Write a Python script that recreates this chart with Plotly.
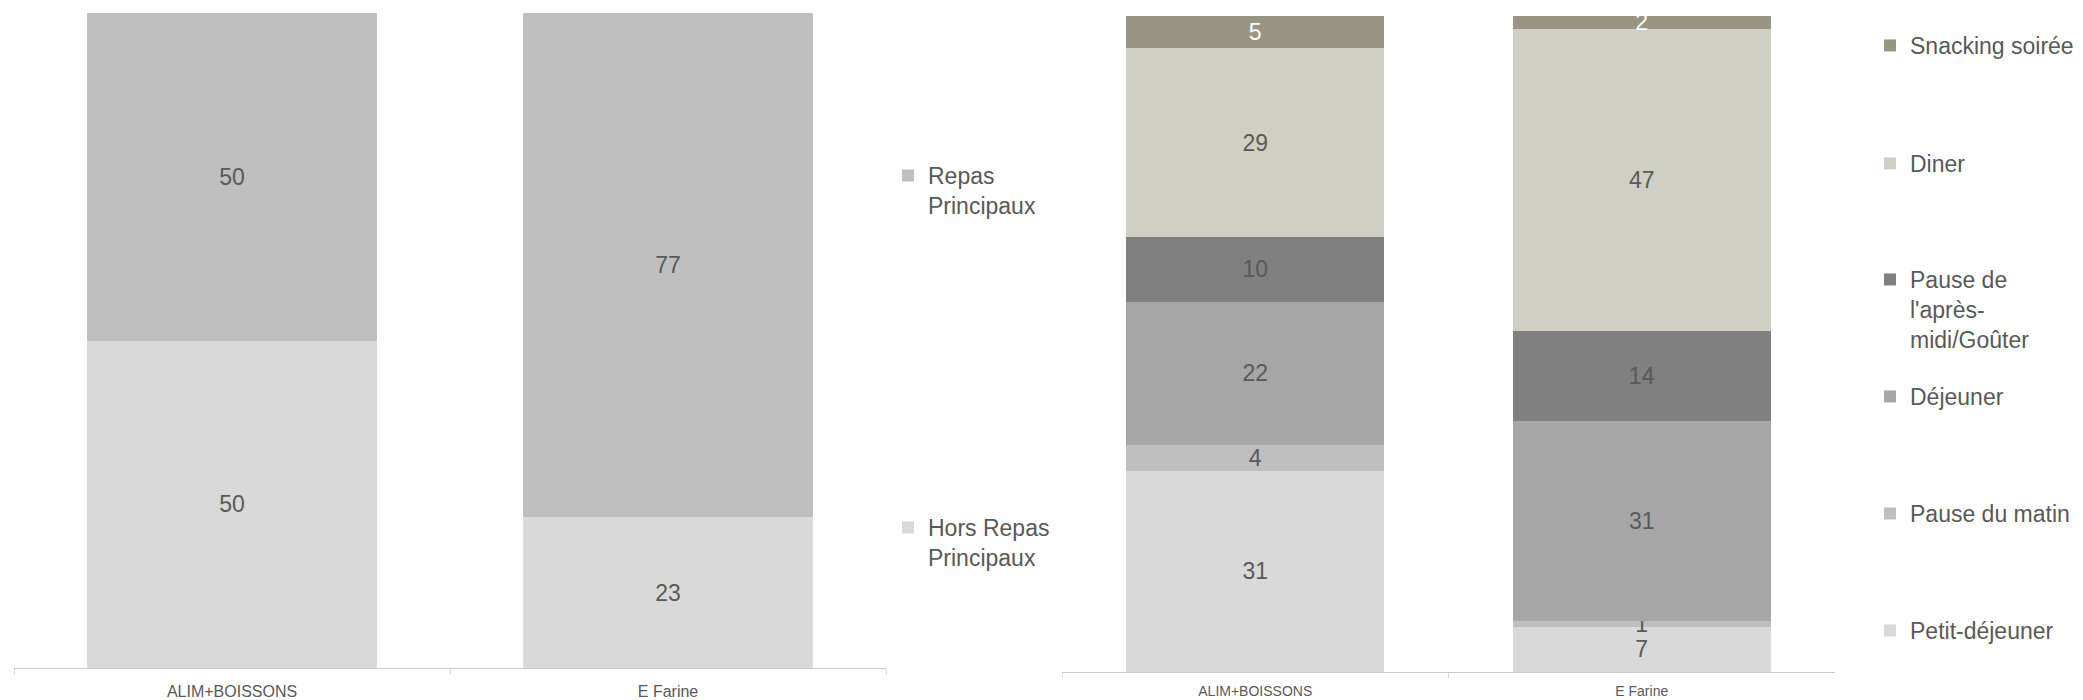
import plotly.graph_objects as go

W, H = 2083, 700

# ---------------- data ----------------
categories = ["ALIM+BOISSONS", "E Farine"]

# left chart (100% stacked)
hors_repas = [50, 23]
repas = [50, 77]

# right chart (100% stacked)
petit_dej = [31, 7]
pause_matin = [4, 1]
dejeuner = [22, 31]
pause_am = [10, 14]
diner = [29, 47]
snacking = [5, 2]

left_names = ["Hors Repas<br>Principaux", "Repas<br>Principaux"]
right_names = ["Petit-déjeuner", "Pause du matin", "Déjeuner",
               "Pause de<br>l'après-<br>midi/Goûter", "Diner", "Snacking soirée"]

# ---------------- style ----------------
left_colors = ["#D9D9D9", "#BFBFBF"]
right_colors = ["#D9D9D9", "#BFBFBF", "#A6A6A6", "#808080", "#CFCFC6", "#989682"]
right_text_colors = ["#595959", "#595959", "#595959", "#595959", "#595959", "#FFFFFF"]
TXT = "#595959"
FONT = "Liberation Sans, Arial, sans-serif"
LBL = 23

def px_x(x):
    return x / W

def px_y(y):
    return 1 - y / H

fig = go.Figure()

left_series = [hors_repas, repas]
for i, (name, vals) in enumerate(zip(left_names, left_series)):
    fig.add_trace(go.Bar(
        x=categories, y=vals, name=name, text=vals,
        textposition="inside", insidetextanchor="middle", textangle=0,
        insidetextfont=dict(color=TXT, size=LBL, family=FONT),
        marker=dict(color=left_colors[i], line=dict(width=0)),
        xaxis="x", yaxis="y",
        legend="legend" if i == 0 else "legend2",
        hoverinfo="skip",
    ))

right_series = [petit_dej, pause_matin, dejeuner, pause_am, diner, snacking]
for i, (name, vals) in enumerate(zip(right_names, right_series)):
    fig.add_trace(go.Bar(
        x=categories, y=vals, name=name, text=vals,
        textposition="inside", insidetextanchor="middle", textangle=0,
        insidetextfont=dict(color=right_text_colors[i], size=LBL, family=FONT),
        marker=dict(color=right_colors[i], line=dict(width=0)),
        xaxis="x2", yaxis="y2",
        legend="legend%d" % (i + 3),
        hoverinfo="skip",
    ))

xaxis_common = dict(
    type="category", showgrid=False, zeroline=False,
    showline=True, linecolor="#C8C8C8", linewidth=1,
    ticks="outside", tickson="boundaries", ticklen=5, tickcolor="#D9D9D9",
    fixedrange=True,
)
yaxis_common = dict(visible=False, range=[0, 100], fixedrange=True)

# legend layout: (first-line centre y in px)
left_leg_y = [527, 175]
right_leg_y = [630, 513, 396, 279, 163, 45]
LEG_OFF = 21
LEG_FONT = 23

legends = {}
for i, yy in enumerate(left_leg_y):
    key = "legend" if i == 0 else "legend2"
    legends[key] = dict(x=px_x(888), xanchor="left", y=px_y(yy - LEG_OFF), yanchor="top",
                        font=dict(size=LEG_FONT, color=TXT, family=FONT), valign="top",
                        bgcolor="rgba(0,0,0,0)", borderwidth=0)
for i, yy in enumerate(right_leg_y):
    key = "legend%d" % (i + 3)
    legends[key] = dict(x=px_x(1870), xanchor="left", y=px_y(yy - LEG_OFF), yanchor="top",
                        font=dict(size=LEG_FONT, color=TXT, family=FONT), valign="top",
                        bgcolor="rgba(0,0,0,0)", borderwidth=0)

fig.update_layout(
    width=W, height=H,
    margin=dict(l=0, r=0, t=0, b=0),
    paper_bgcolor="white", plot_bgcolor="white",
    barmode="stack", barnorm="percent", bargap=0.333,
    font=dict(family=FONT, color=TXT),
    uniformtext=dict(minsize=LBL, mode="show"),
    showlegend=True,
    xaxis=dict(domain=[px_x(14), px_x(886)], anchor="y",
               tickfont=dict(size=16, color=TXT, family=FONT), ticklabelstandoff=9,
               **xaxis_common),
    yaxis=dict(domain=[px_y(668), px_y(13)], anchor="x", **yaxis_common),
    xaxis2=dict(domain=[px_x(1062), px_x(1835)], anchor="y2",
                tickfont=dict(size=14, color=TXT, family=FONT), ticklabelstandoff=6,
                **xaxis_common),
    yaxis2=dict(domain=[px_y(672), px_y(16)], anchor="x2", **yaxis_common),
    **legends,
)

fig.write_html("out.html", config={"displayModeBar": False},
               post_script="document.body.style.margin='0';")
